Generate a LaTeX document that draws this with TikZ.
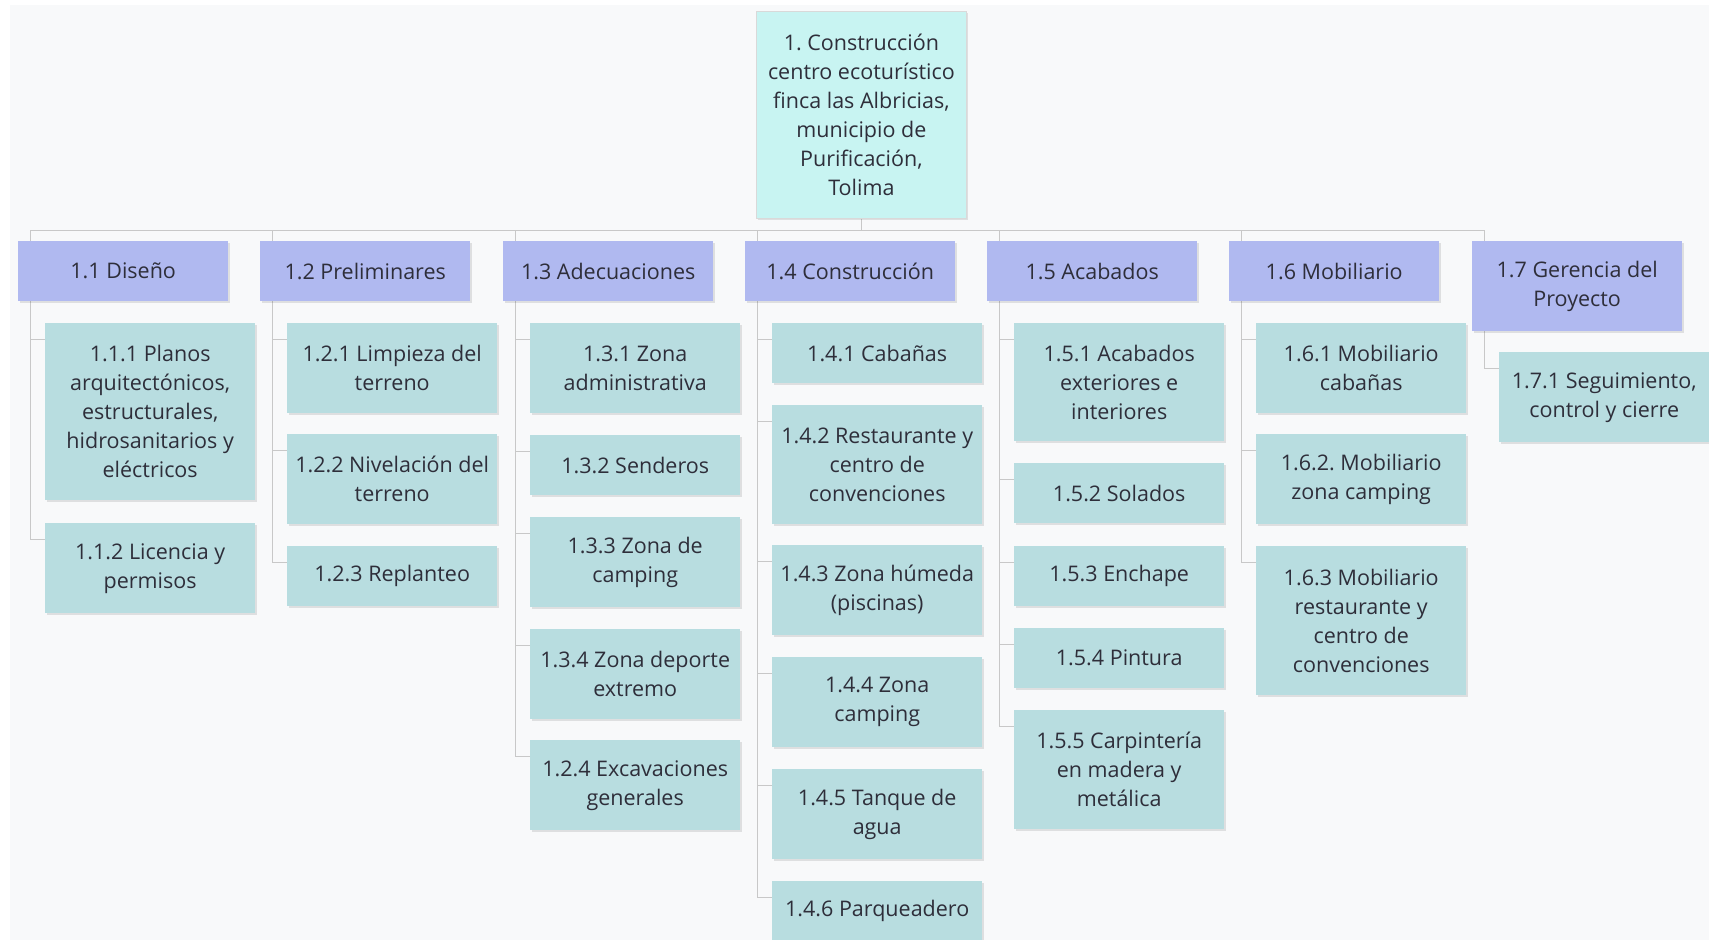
\documentclass[tikz,border=0pt]{standalone}
\usepackage{fontspec}
\setmainfont{Open Sans}
\frenchspacing
\usetikzlibrary{shadows}
\definecolor{pagebg}{HTML}{F8F9FA}
\definecolor{rootfill}{HTML}{C8F4F2}
\definecolor{phasefill}{HTML}{B0B9F0}
\definecolor{taskfill}{HTML}{B8DDE0}
\definecolor{linkgray}{HTML}{C8C8C8}
\definecolor{inkgray}{HTML}{2E2E3A}
\pgfdeclarelayer{back}
\pgfdeclarelayer{links}
\pgfsetlayers{back,links,main}
\tikzset{
  box/.style={anchor=north west, minimum width=210pt, inner sep=0pt, align=center,
    text=inkgray, font=\fontsize{21.5}{29}\selectfont,
    drop shadow={shadow xshift=1.5pt, shadow yshift=-2pt, fill=black, opacity=0.10}},
  rootbox/.style={box, fill=rootfill, draw=black!15, line width=0.8pt},
  phasebox/.style={box, fill=phasefill},
  taskbox/.style={box, fill=taskfill},
  conn/.style={draw=linkgray, line width=1pt}
}
\begin{document}
\begin{tikzpicture}[x=1pt, y=-1pt]
\useasboundingbox (0,0) rectangle (1709,940);
\begin{pgfonlayer}{back}
  \fill[white] (0,0) rectangle (1709,940);
  \fill[pagebg] (10,5) rectangle (1709,940);
\end{pgfonlayer}

% root
\node[rootbox, minimum height=207pt] (root) at (756,11)
  {1. Construcción\\centro ecoturístico\\finca las Albricias,\\municipio de\\Purificación,\\Tolima};

% phases
\node[phasebox, minimum height=60pt] (n11) at (18,241) {1.1 Diseño};
\node[phasebox, minimum height=60pt] (n12) at (260,241) {1.2 Preliminares};
\node[phasebox, minimum height=60pt] (n13) at (503,241) {1.3 Adecuaciones};
\node[phasebox, minimum height=60pt] (n14) at (745,241) {1.4 Construcción};
\node[phasebox, minimum height=60pt] (n15) at (987,241) {1.5 Acabados};
\node[phasebox, minimum height=60pt] (n16) at (1229,241) {1.6 Mobiliario};
\node[phasebox, minimum height=90pt] (n17) at (1472,241) {1.7 Gerencia del\\Proyecto};

% 1.1
\node[taskbox, minimum height=177pt] (c111) at (45,323)
  {1.1.1 Planos\\arquitectónicos,\\estructurales,\\hidrosanitarios y\\eléctricos};
\node[taskbox, minimum height=90pt] (c112) at (45,523) {1.1.2 Licencia y\\permisos};
% 1.2
\node[taskbox, minimum height=90pt] (c121) at (287,323) {1.2.1 Limpieza del\\terreno};
\node[taskbox, minimum height=90pt] (c122) at (287,434) {1.2.2 Nivelación del\\terreno};
\node[taskbox, minimum height=60pt] (c123) at (287,546) {1.2.3 Replanteo};
% 1.3
\node[taskbox, minimum height=90pt] (c131) at (530,323) {1.3.1 Zona\\administrativa};
\node[taskbox, minimum height=60pt] (c132) at (530,435) {1.3.2 Senderos};
\node[taskbox, minimum height=90pt] (c133) at (530,517) {1.3.3 Zona de\\camping};
\node[taskbox, minimum height=90pt] (c134) at (530,629) {1.3.4 Zona deporte\\extremo};
\node[taskbox, minimum height=90pt] (c124) at (530,740) {1.2.4 Excavaciones\\generales};
% 1.4
\node[taskbox, minimum height=60pt] (c141) at (772,323) {1.4.1 Cabañas};
\node[taskbox, minimum height=119pt] (c142) at (772,405) {1.4.2 Restaurante y\\centro de\\convenciones};
\node[taskbox, minimum height=90pt] (c143) at (772,545) {1.4.3 Zona húmeda\\(piscinas)};
\node[taskbox, minimum height=90pt] (c144) at (772,657) {1.4.4 Zona\\camping};
\node[taskbox, minimum height=90pt] (c145) at (772,769) {1.4.5 Tanque de\\agua};
\node[taskbox, minimum height=60pt] (c146) at (772,881) {1.4.6 Parqueadero};
% 1.5
\node[taskbox, minimum height=118pt] (c151) at (1014,323) {1.5.1 Acabados\\exteriores e\\interiores};
\node[taskbox, minimum height=60pt] (c152) at (1014,463) {1.5.2 Solados};
\node[taskbox, minimum height=60pt] (c153) at (1014,546) {1.5.3 Enchape};
\node[taskbox, minimum height=60pt] (c154) at (1014,628) {1.5.4 Pintura};
\node[taskbox, minimum height=119pt] (c155) at (1014,710) {1.5.5 Carpintería\\en madera y\\metálica};
% 1.6
\node[taskbox, minimum height=90pt] (c161) at (1256,323) {1.6.1 Mobiliario\\cabañas};
\node[taskbox, minimum height=90pt] (c162) at (1256,434) {1.6.2. Mobiliario\\zona camping};
\node[taskbox, minimum height=149pt] (c163) at (1256,546) {1.6.3 Mobiliario\\restaurante y\\centro de\\convenciones};
% 1.7
\node[taskbox, minimum height=90pt] (c171) at (1499,352) {1.7.1 Seguimiento,\\control y cierre};

% connectors behind the boxes
\begin{pgfonlayer}{links}
  \coordinate (bus) at ([yshift=11pt]n14.north);
  \draw[conn] (root.south) -- (root.south |- bus);
  \draw[conn] ([xshift=12pt,yshift=11pt]n11.north west) -- ([xshift=12pt,yshift=11pt]n17.north west);
  \foreach \p in {n11,n12,n13,n14,n15,n16,n17}
    \draw[conn] ([xshift=12pt,yshift=11pt]\p.north west) -- ([xshift=12pt]\p.south west);
  \foreach \p/\c in {n11/c111, n11/c112,
                     n12/c121, n12/c122, n12/c123,
                     n13/c131, n13/c132, n13/c133, n13/c134, n13/c124,
                     n14/c141, n14/c142, n14/c143, n14/c144, n14/c145, n14/c146,
                     n15/c151, n15/c152, n15/c153, n15/c154, n15/c155,
                     n16/c161, n16/c162, n16/c163,
                     n17/c171}
    \draw[conn] ([xshift=12pt]\p.south west) |- ([yshift=-16pt]\c.north west);
\end{pgfonlayer}
\end{tikzpicture}
\end{document}
